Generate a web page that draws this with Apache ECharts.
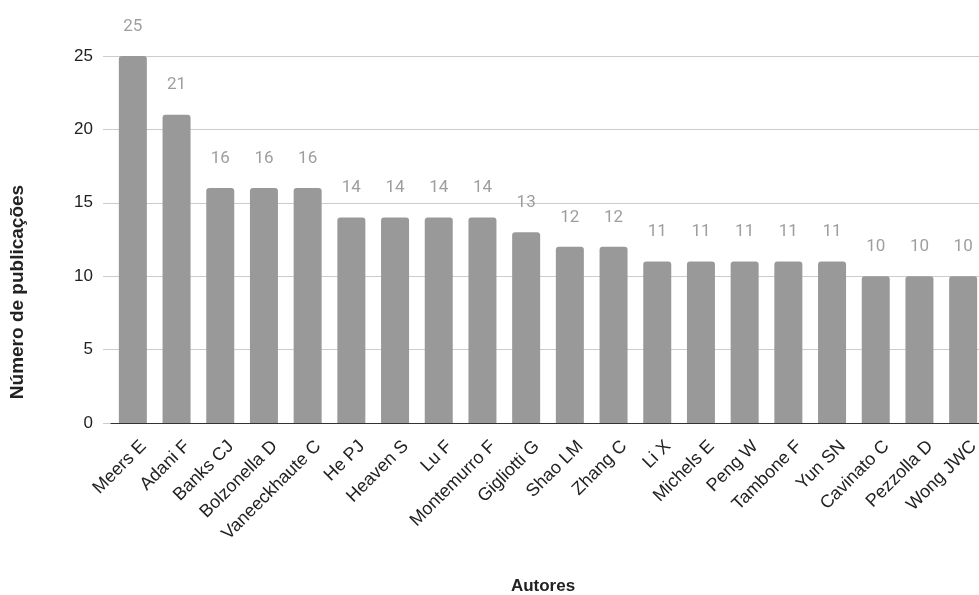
<!DOCTYPE html>
<html>
<head>
<meta charset="utf-8">
<script src="https://cdn.jsdelivr.net/npm/echarts@6/dist/echarts.min.js"></script>
<style>
  html, body { margin: 0; padding: 0; background: #ffffff; overflow: hidden; }
  /* canvas is a little wider than the window so the last bar runs off the edge */
  #chart { width: 990px; height: 595px; }
</style>
</head>
<body>
<div id="chart"></div>
<script>
// Publications per author
const authors = [
  'Meers E', 'Adani F', 'Banks CJ', 'Bolzonella D', 'Vaneeckhaute C',
  'He PJ', 'Heaven S', 'Lu F', 'Montemurro F', 'Gigliotti G',
  'Shao LM', 'Zhang C', 'Li X', 'Michels E', 'Peng W',
  'Tambone F', 'Yun SN', 'Cavinato C', 'Pezzolla D', 'Wong JWC'
];
const publications = [25, 21, 16, 16, 16, 14, 14, 14, 14, 13, 12, 12, 11, 11, 11, 11, 11, 10, 10, 10];
const yTicks = { min: 0, max: 25, interval: 5 };
const xTitle = 'Autores';
const yTitle = 'Número de publicações';

const axisFont = '"Liberation Sans", Arial, sans-serif';
const chart = echarts.init(document.getElementById('chart'), null, { renderer: 'canvas' });

chart.setOption({
  animation: false,
  backgroundColor: '#ffffff',
  grid: [
    // gridlines and value scale
    { left: 103, right: 11, top: 56, bottom: 172, containLabel: false },
    // bars and category axis
    { left: 111, right: 5, top: 56, bottom: 172, containLabel: false }
  ],
  xAxis: [
    { gridIndex: 0, type: 'category', data: authors, show: false },
    {
      gridIndex: 1,
      type: 'category',
      data: authors,
      axisTick: { show: false },
      axisLine: { show: true, lineStyle: { color: '#333333', width: 1 } },
      axisLabel: {
        rotate: 45,
        interval: 0,
        margin: 10,
        // blank leading line pushes each slanted name a bit further from the axis
        formatter: (v) => '{gap| }\n{t|' + v + '}',
        rich: {
          gap: { lineHeight: 30, fontSize: 10 },
          t: { fontSize: 18, lineHeight: 20, color: '#222222', fontFamily: axisFont }
        },
        color: '#222222',
        fontSize: 18,
        fontFamily: axisFont
      }
    }
  ],
  yAxis: [
    {
      gridIndex: 0,
      type: 'value',
      min: yTicks.min,
      max: yTicks.max,
      interval: yTicks.interval,
      axisLine: { show: false },
      axisTick: { show: false },
      axisLabel: { color: '#222222', fontSize: 17, margin: 10, fontFamily: axisFont },
      splitLine: { show: true, lineStyle: { color: '#cccccc', width: 1 } }
    },
    {
      gridIndex: 1,
      type: 'value',
      min: yTicks.min,
      max: yTicks.max,
      interval: yTicks.interval,
      show: false
    }
  ],
  graphic: [
    {
      type: 'text',
      x: 543,
      y: 586,
      style: {
        text: xTitle,
        fill: '#222222',
        font: 'bold 17px ' + axisFont,
        align: 'center',
        verticalAlign: 'middle'
      }
    },
    {
      type: 'text',
      x: 18,
      y: 292,
      rotation: Math.PI / 2,
      style: {
        text: yTitle,
        fill: '#222222',
        font: 'bold 19px ' + axisFont,
        align: 'center',
        verticalAlign: 'middle'
      }
    }
  ],
  series: [
    {
      type: 'bar',
      xAxisIndex: 1,
      yAxisIndex: 1,
      data: publications,
      barWidth: 28,
      itemStyle: { color: '#999999', borderRadius: [3, 3, 0, 0] },
      label: {
        show: true,
        position: 'top',
        distance: 21,
        color: '#9e9e9e',
        fontSize: 17,
        fontFamily: 'Roboto, sans-serif'
      }
    }
  ]
});
</script>
</body>
</html>
